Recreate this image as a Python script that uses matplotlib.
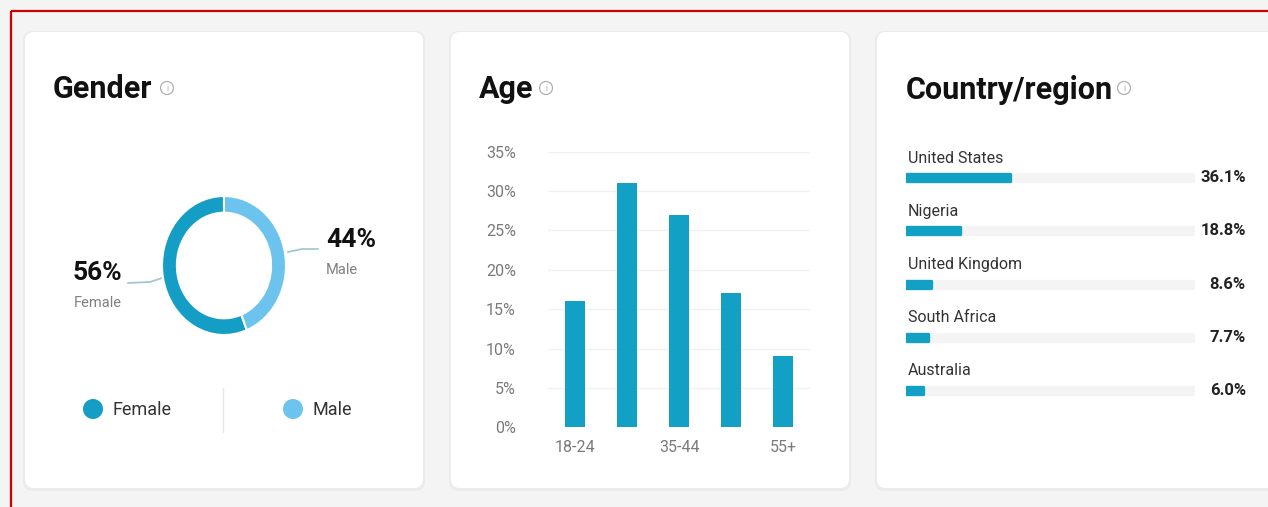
import matplotlib
matplotlib.use("Agg")
import matplotlib.pyplot as plt
from matplotlib.patches import FancyBboxPatch, Circle
from matplotlib.transforms import blended_transform_factory

plt.rcParams["font.family"] = ["Roboto", "DejaVu Sans"]

W, H = 1268, 507

# data
gender_labels = ["Female", "Male"]
gender_shares = [56, 44]
gender_colors = ["#149ec6", "#6cc4ee"]

age_groups = ["18-24", "25-34", "35-44", "45-54", "55+"]
age_shares = [16, 31, 27, 17, 9]
age_ticks = [0, 5, 10, 15, 20, 25, 30, 35]

countries = ["United States", "Nigeria", "United Kingdom", "South Africa", "Australia"]
country_shares = [36.1, 18.8, 8.6, 7.7, 6.0]

BLUE = "#13a0c5"
GRAY_TEXT = "#808080"


def px_axes(fig, x0, y0, x1, y1):
    """Axes placed by pixel box (top-left origin)."""
    return fig.add_axes([x0 / W, 1 - y1 / H, (x1 - x0) / W, (y1 - y0) / H])


def info_icon(ax, x, y):
    ax.add_patch(Circle((x, y), 6.5, fill=False, ec="#b0b0b0", lw=0.9))
    ax.text(x, y + 0.5, "i", fontsize=6.5, color="#b0b0b0", ha="center", va="center")


fig = plt.figure(figsize=(W / 100, H / 100), dpi=100, facecolor="#f4f4f4")
bg = px_axes(fig, 0, 0, W, H)
bg.set_xlim(0, W)
bg.set_ylim(H, 0)
bg.axis("off")

# red frame around the screenshot
bg.plot([11, W], [11, 11], color="#d00000", lw=1.6, solid_capstyle="butt")
bg.plot([11, 11], [11, H], color="#d00000", lw=1.6, solid_capstyle="butt")

# cards
for x0, x1 in [(25, 423), (451, 849), (877, 1300)]:
    bg.add_patch(FancyBboxPatch((x0 - 2, 31), x1 - x0 + 4, 460,
                                boxstyle="round,pad=0,rounding_size=10",
                                fc="#ebebeb", ec="none"))
    bg.add_patch(FancyBboxPatch((x0, 32), x1 - x0, 456,
                                boxstyle="round,pad=0,rounding_size=9",
                                fc="white", ec="none"))

# titles
bg.text(53, 98, "Gender", fontsize=22, fontweight="bold", color="#111111", va="baseline")
info_icon(bg, 167, 88)
bg.text(479, 98, "Age", fontsize=22, fontweight="bold", color="#111111", va="baseline")
info_icon(bg, 546, 88)
bg.text(906, 99, "Country/region", fontsize=22, fontweight="bold", color="#111111", va="baseline")
info_icon(bg, 1124, 88)

# ---- gender donut ----
cx, cy, rx, ry = 224, 265.5, 62 * 1.05, 69.5 * 1.05
ax_d = px_axes(fig, cx - rx, cy - ry, cx + rx, cy + ry)
ax_d.pie(gender_shares, colors=gender_colors, startangle=90, counterclock=True,
         wedgeprops=dict(width=0.24, edgecolor="white", linewidth=1.5))
ax_d.set_aspect("auto")
ax_d.set_xlim(-1.05, 1.05)
ax_d.set_ylim(-1.05, 1.05)
ax_d.axis("off")

# leader lines and callouts
bg.plot([128, 150, 162], [283, 282, 278], color="#9cc3d2", lw=1.2)
bg.plot([288, 302, 318], [252, 249, 249], color="#9cc3d2", lw=1.2)
bg.text(97, 273, f"{gender_shares[0]}%", fontsize=19, fontweight="bold",
        color="#111111", ha="center", va="center")
bg.text(98, 303, gender_labels[0], fontsize=10.5, color=GRAY_TEXT, ha="center", va="center")
bg.text(351, 240, f"{gender_shares[1]}%", fontsize=19, fontweight="bold",
        color="#111111", ha="center", va="center")
bg.text(342, 270, gender_labels[1], fontsize=10.5, color=GRAY_TEXT, ha="center", va="center")

# legend
for (mx, tx), lab, col in zip([(93, 113), (293, 313)], gender_labels, gender_colors):
    bg.add_patch(Circle((mx, 409), 10, color=col, ec="none"))
    bg.text(tx, 410, lab, fontsize=13, color="#333333", va="center")
bg.plot([223, 223], [388, 432], color="#e6e6e6", lw=1)

# ---- age bars ----
ax_a = px_axes(fig, 548, 151.7, 810, 427.3)
ax_a.set_facecolor("none")
ax_a.bar(range(len(age_groups)), age_shares, width=0.39, color=BLUE, zorder=3)
ax_a.set_ylim(0, 35)
ax_a.set_xlim(-0.52, 4.52)
ax_a.set_yticks(age_ticks, [f"{t}%" for t in age_ticks])
ax_a.set_xticks(range(len(age_groups)),
                [g if i % 2 == 0 else "" for i, g in enumerate(age_groups)])
ax_a.grid(axis="y", color="#f0f0f0", lw=1)
ax_a.set_axisbelow(True)
for s in ax_a.spines.values():
    s.set_visible(False)
ax_a.tick_params(axis="y", length=0, pad=23, labelsize=11.5, labelcolor="#7a7a7a")
ax_a.tick_params(axis="x", length=0, pad=9, labelsize=11.5, labelcolor="#7a7a7a")

# ---- country bars (round joins give the pill look) ----
ax_c = px_axes(fig, 906, 137.8, 1195, 430.5)
ax_c.set_facecolor("none")
rows = list(range(len(countries)))
ax_c.barh(rows, [100] * len(rows), height=0.13, color="#f4f4f4",
          edgecolor="#f4f4f4", linewidth=2.4, joinstyle="round")
ax_c.barh(rows, country_shares, height=0.13, color=BLUE,
          edgecolor=BLUE, linewidth=2.4, joinstyle="round")
ax_c.set_xlim(0, 100)
ax_c.set_ylim(4.75, -0.75)
ax_c.axis("off")
side = blended_transform_factory(ax_c.transAxes, ax_c.transData)
for r, name, val in zip(rows, countries, country_shares):
    ax_c.text(0.007, r - 0.37, name, transform=side, fontsize=11.5,
              color="#333333", va="center")
    ax_c.text(1.176, r, f"{val:.1f}%", transform=side, fontsize=12,
              fontweight="bold", color="#222222", ha="right", va="center")

fig.savefig("out.png", dpi=100, facecolor=fig.get_facecolor())
